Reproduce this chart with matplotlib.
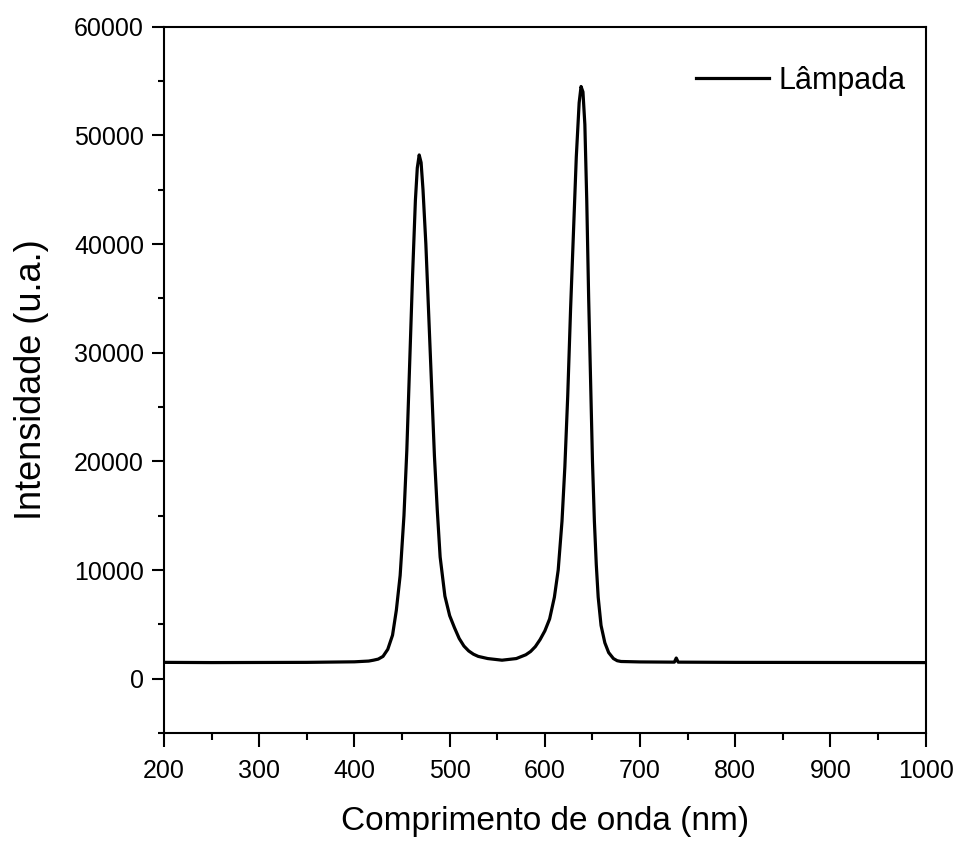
import matplotlib
matplotlib.use("Agg")
import matplotlib.pyplot as plt
from matplotlib.ticker import MultipleLocator

plt.rcParams['font.family'] = ['Liberation Sans', 'DejaVu Sans']

wavelength = [200, 250, 300, 350, 400, 415, 420, 425, 430, 435, 440, 444, 448, 452,
              455, 458, 461, 464, 466, 468, 470, 472, 475, 478, 481, 484, 487, 490,
              495, 500, 505, 510, 515, 520, 525, 530, 540, 555, 570, 580, 585, 590,
              595, 600, 605, 610, 614, 618, 621, 624, 627, 630, 633, 636, 638, 640,
              642, 644, 646, 648, 650, 652, 654, 656, 659, 663, 667, 672, 676, 680,
              700, 736, 738, 740, 800, 900, 1000]
intensity = [1500, 1480, 1490, 1500, 1550, 1620, 1700, 1800, 2050, 2700, 4000, 6300,
             9500, 15000, 21000, 29000, 37000, 44000, 47000, 48200, 47500, 45000,
             40000, 33500, 27000, 20500, 15500, 11200, 7600, 5800, 4700, 3700, 3000,
             2550, 2250, 2050, 1850, 1700, 1850, 2200, 2500, 2950, 3600, 4400, 5500,
             7500, 10000, 14500, 19500, 26000, 34000, 41000, 48000, 53000, 54500,
             54000, 51000, 44000, 35000, 27500, 20000, 14500, 10500, 7500, 4900,
             3300, 2400, 1850, 1650, 1580, 1540, 1520, 1900, 1520, 1500, 1490, 1480]

series_label = "Lâmpada"
x_label = "Comprimento de onda (nm)"
y_label = "Intensidade (u.a.)"

fig = plt.figure(figsize=(9.57, 8.43), dpi=100)
ax = fig.add_axes([0.1714, 0.1305, 0.7959, 0.8378])
ax.plot(wavelength, intensity, color='black', lw=2.3, label=series_label)

ax.set_xlim(200, 1000)
ax.set_ylim(-5000, 60000)
ax.xaxis.set_major_locator(MultipleLocator(100))
ax.xaxis.set_minor_locator(MultipleLocator(50))
ax.yaxis.set_major_locator(MultipleLocator(10000))
ax.yaxis.set_minor_locator(MultipleLocator(5000))
ax.tick_params(axis='x', which='major', direction='out', length=10, width=1.5, labelsize=18, pad=9)
ax.tick_params(axis='x', which='minor', direction='out', length=5, width=1.5)
ax.tick_params(axis='y', which='major', direction='out', length=8.5, width=1.5, labelsize=18, pad=6)
ax.tick_params(axis='y', which='minor', direction='out', length=4, width=1.5)
for s in ax.spines.values():
    s.set_linewidth(1.5)

ax.set_xlabel(x_label, fontsize=24, labelpad=16)
ax.set_ylabel(y_label, fontsize=26, labelpad=18)

ax.legend(loc='center right', bbox_to_anchor=(0.946, 0.904),
          bbox_transform=fig.transFigure, frameon=False, fontsize=22,
          handlelength=2.4, handletextpad=0.3, borderpad=0, borderaxespad=0)

fig.savefig("out.png", dpi=100)
